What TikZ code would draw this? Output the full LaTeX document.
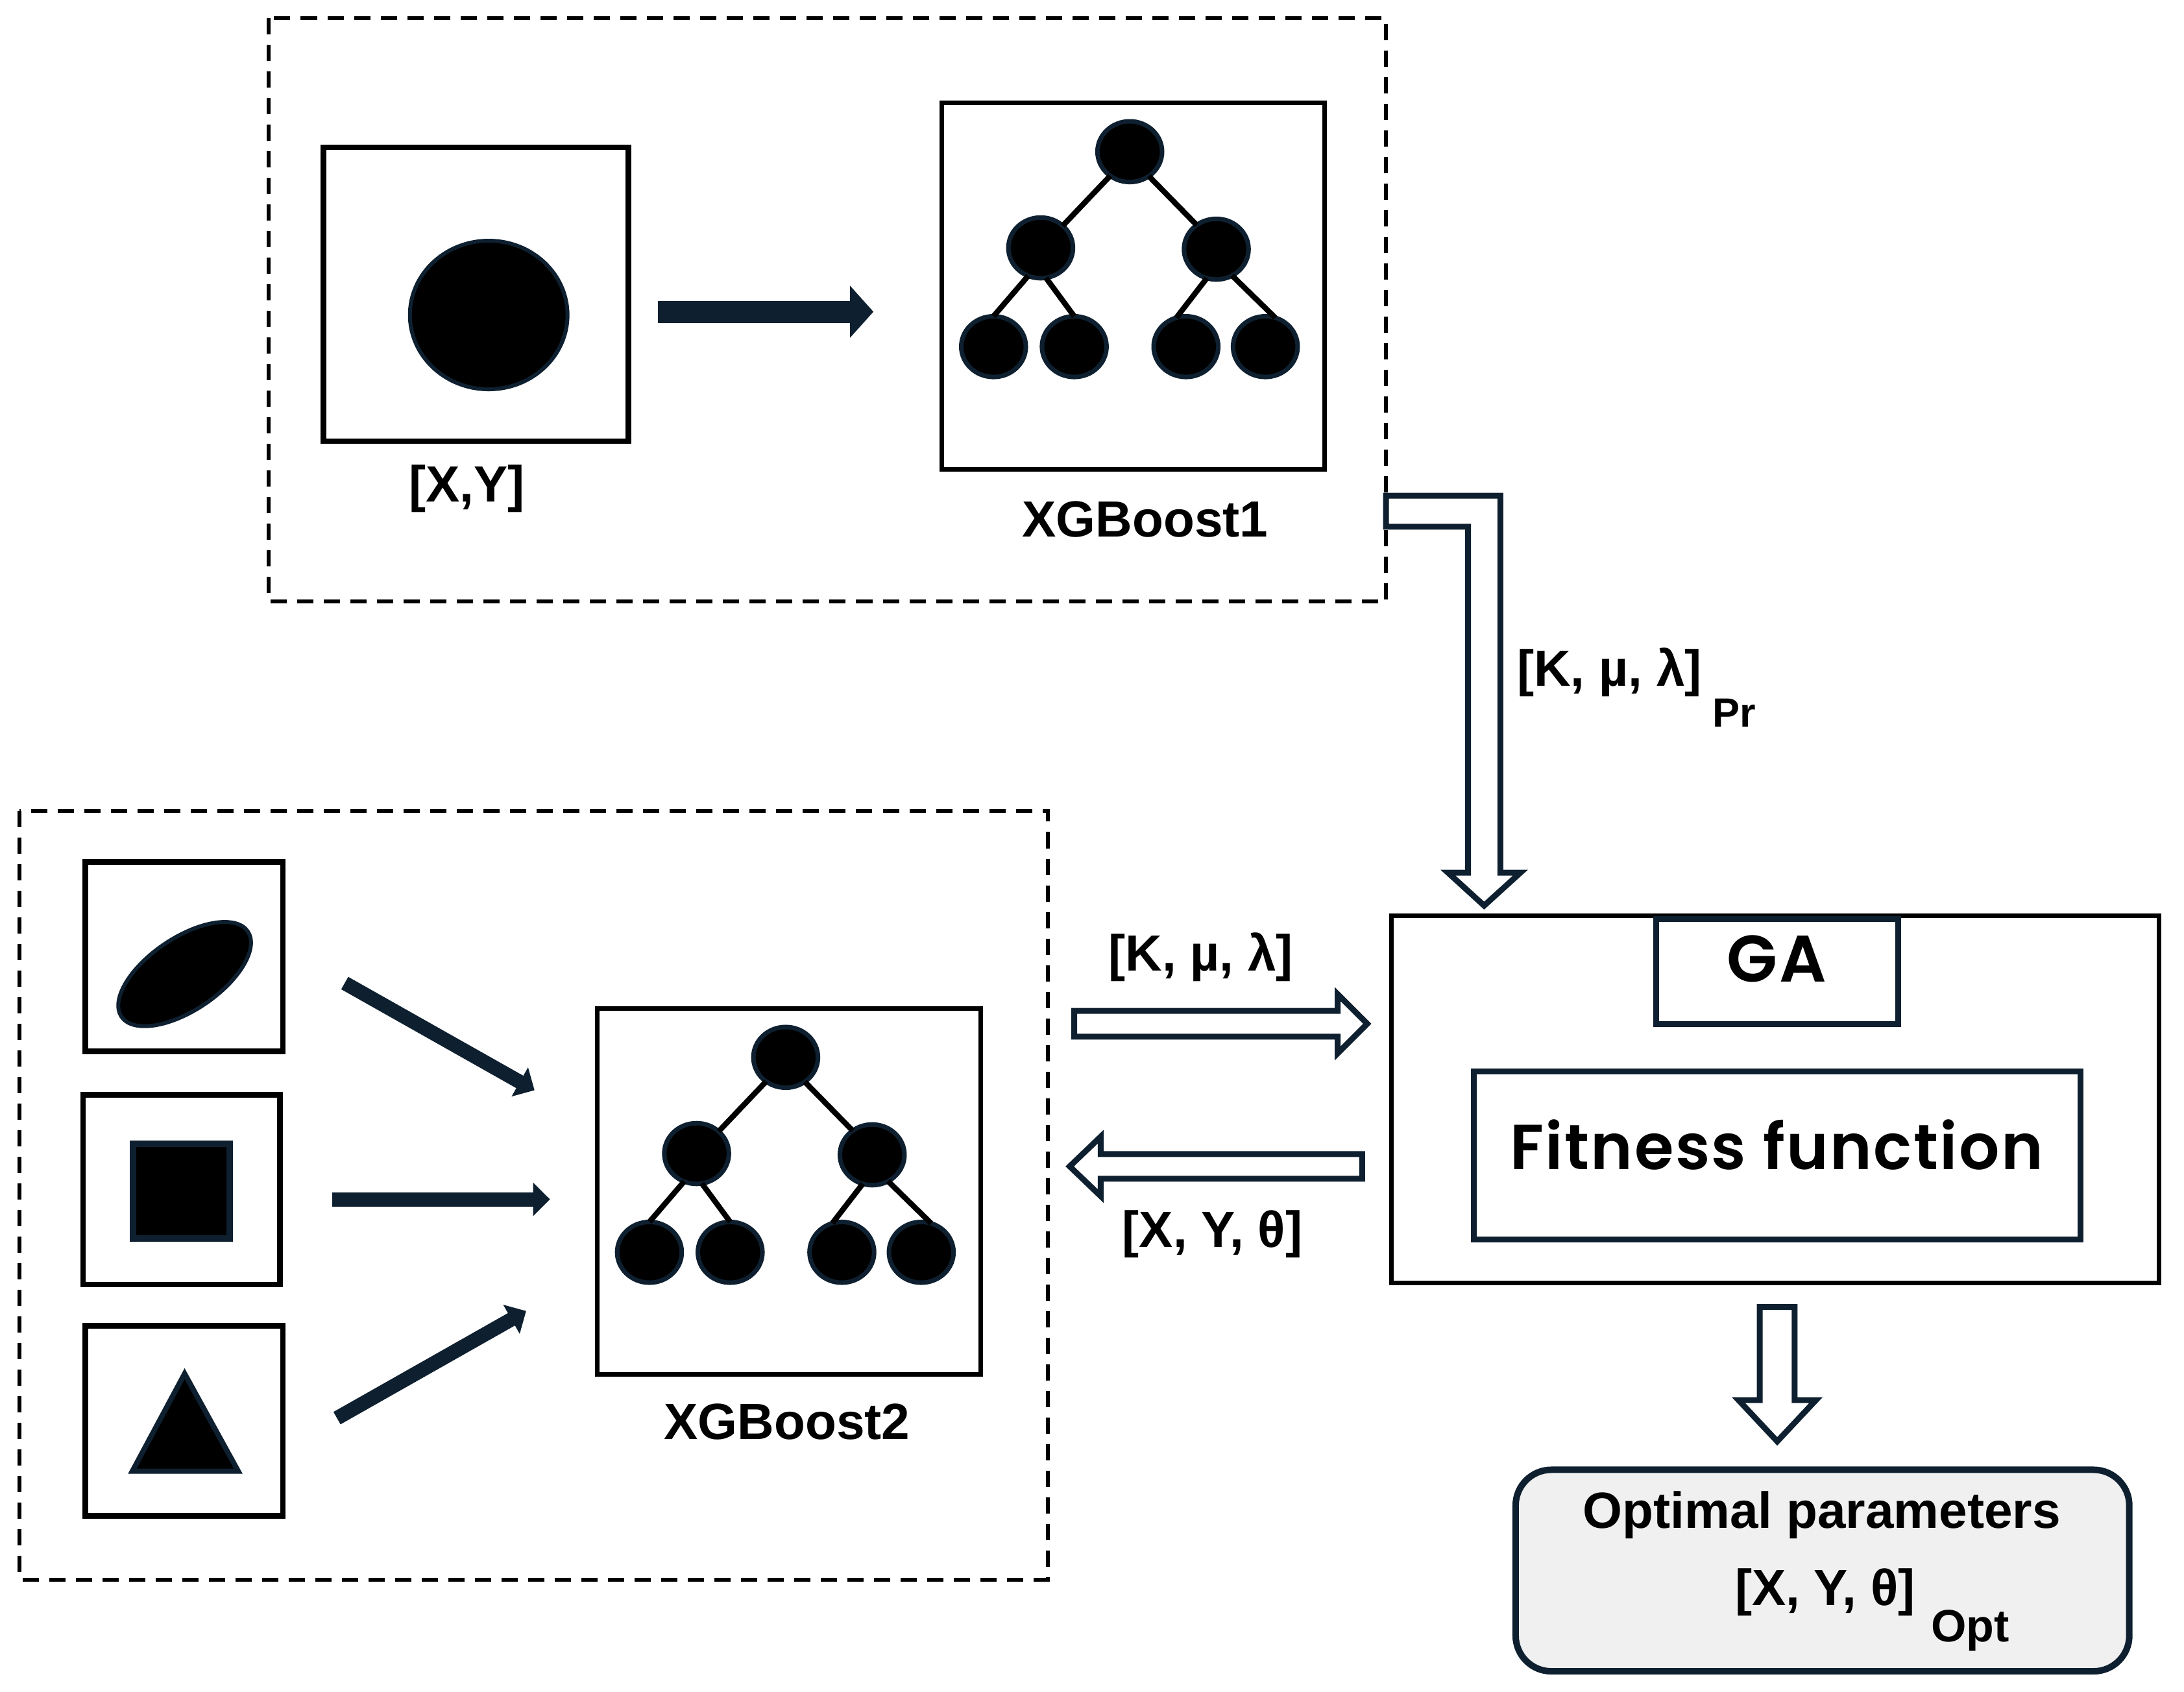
\documentclass[tikz,border=0pt]{standalone}
\usepackage{fontspec}
\usepackage{tikz}
\setmainfont{Liberation Sans}
\newfontfamily\gafont[LetterSpace=2.5]{Poppins SemiBold}
\usetikzlibrary{arrows.meta}
\usetikzlibrary{shapes.geometric}
\definecolor{navy}{HTML}{0E2030}

\begin{document}
\begin{tikzpicture}[x=0.01cm,y=-0.01cm,scale=0.995,
      every node/.style={inner sep=0mm,outer sep=0mm,transform shape},
      framebox/.style={draw=black,line width=0.06cm,dash pattern=on 0.25cm off 0.16cm},
      thickbox/.style={rectangle,draw=black,line width=0.085cm},
      thinbox/.style={rectangle,draw=black,line width=0.07cm},
      navybox/.style={rectangle,draw=navy,line width=0.09cm},
      treenode/.style={ellipse,fill=black,draw=navy,line width=0.07cm,minimum width=1cm,minimum height=0.94cm},
      treeedge/.style={draw=black,line width=0.085cm},
      solid shape/.style={fill=black,draw=navy,line width=0.06cm},
      bigarrow/.style={draw=navy,line width=0.34cm,-{Triangle[length=0.36cm,width=0.78cm]}},
      smallarrow/.style={draw=navy,line width=0.22cm,-{Triangle[length=0.26cm,width=0.5cm]}},
      hollowpath/.style={draw=navy,fill=white,line width=0.09cm,line join=miter},
      lab/.style={font=\fontsize{22.4}{26}\selectfont\bfseries},
      sublab/.style={font=\fontsize{18}{22}\selectfont\bfseries}]

      \useasboundingbox (0,0) rectangle (3383,2621);

      \draw[framebox] (416,28) rectangle (2147,932);
      \draw[framebox] (30,1256) rectangle (1623,2447);

      \node[thickbox,minimum width=4.72cm,minimum height=4.55cm] (inbox) at (737,456) {};
      \node[ellipse,solid shape,minimum width=2.44cm,minimum height=2.3cm] (incircle) at (757,488) {};
      \node[lab] (inlabel) at (723,757) {[X,Y]};

      \foreach \t/\dx/\dy in {a/0/0,b/-533/1403} {
        \begin{scope}[shift={(\dx,\dy)}]
          \node[thinbox,minimum width=5.93cm,minimum height=5.67cm] (\t box) at (1755,443) {};
          \node[treenode] (\t root) at (1750,235) {};
          \node[treenode] (\t left) at (1612,384) {};
          \node[treenode] (\t right) at (1884,386) {};
          \node[treenode] (\t l1) at (1539,537) {};
          \node[treenode] (\t l2) at (1664,537) {};
          \node[treenode] (\t r1) at (1837,537) {};
          \node[treenode] (\t r2) at (1960,537) {};
        \end{scope}
        \draw[treeedge] (\t root.231) -- (\t left.45);
        \draw[treeedge] (\t root.-52) -- (\t right.129);
        \draw[treeedge] (\t left.246) -- (\t l1.90);
        \draw[treeedge] (\t left.-80) -- (\t l2.90);
        \draw[treeedge] (\t right.252) -- (\t r1.108);
        \draw[treeedge] (\t right.-59) -- (\t r2.71);
      }
      \node[lab] (alabel) at (1774,805) {XGBoost1};
      \node[lab] (blabel) at (1219,2203) {XGBoost2};

      \coordinate (inarrowstart) at (1019,483);
      \coordinate (inarrowend) at (1353,483);
      \draw[bigarrow] (inarrowstart) -- (inarrowend);

      \node[thickbox,minimum width=3.06cm,minimum height=2.93cm] (ellbox) at (285,1482) {};
      \node[thickbox,minimum width=3.05cm,minimum height=2.94cm] (squbox) at (281,1843) {};
      \node[thickbox,minimum width=3.06cm,minimum height=2.94cm] (tribox) at (285,2201) {};
      \node[ellipse,solid shape,rotate=34,minimum width=2.36cm,minimum height=1.12cm] (ell) at (286,1509) {};
      \node[rectangle,solid shape,line width=0.1cm,minimum width=1.49cm,minimum height=1.47cm] (squ) at (281,1845) {};
      \draw[solid shape,line width=0.08cm,line join=miter] (205,2279) -- (286,2128) -- (369,2279) -- cycle;

      \coordinate (ellstart) at (534,1523);
      \coordinate (ellend) at (828,1689);
      \coordinate (squstart) at (515,1858);
      \coordinate (squend) at (852,1858);
      \coordinate (tristart) at (522,2197);
      \coordinate (triend) at (815,2031);
      \draw[smallarrow] (ellstart) -- (ellend);
      \draw[smallarrow] (squstart) -- (squend);
      \draw[smallarrow] (tristart) -- (triend);

      \node[thinbox,minimum width=11.88cm,minimum height=5.68cm] (gabox) at (2750,1703) {};
      \node[navybox,minimum width=3.75cm,minimum height=1.62cm] (ganame) at (2753,1505) {};
      \node[font=\gafont\fontsize{29}{34}\selectfont] (gatext) at (2752,1485) {GA};
      \node[navybox,minimum width=9.39cm,minimum height=2.61cm] (fitbox) at (2753,1790) {};
      \node[font=\gafont\fontsize{28}{32}\selectfont] (fittext) at (2752,1773) {Fitness function};

      \coordinate (bendtip) at (2299,1403);
      \draw[hollowpath] (2147,768) -- (2324,768) -- (2324,1352) -- (2355,1352) -- (bendtip)
        -- (2243,1352) -- (2274,1352) -- (2274,816) -- (2147,816) -- cycle;
      \node[lab,anchor=west] (prlabel) at (2350,1041) {[K, µ, λ]};
      \node[sublab,anchor=west] (prsub) at (2653,1104) {Pr};

      \coordinate (ktip) at (2118,1586);
      \draw[hollowpath] (ktip) -- ++(-46,-46) -- ++(0,26) -- ++(-408,0) -- ++(0,40) -- ++(408,0) -- ++(0,26) -- cycle;
      \node[lab] (klabel) at (1860,1483) {[K, µ, λ]};
      \coordinate (xtip) at (1657,1807);
      \draw[hollowpath] (xtip) -- ++(48,-46) -- ++(0,27) -- ++(405,0) -- ++(0,38) -- ++(-405,0) -- ++(0,27) -- cycle;
      \node[lab] (xlabel) at (1878,1912) {[X, Y, θ]};

      \coordinate (opttip) at (2753,2233);
      \draw[hollowpath] (opttip) -- ++(-60,-64) -- ++(33,0) -- ++(0,-144) -- ++(54,0) -- ++(0,144) -- ++(33,0) -- cycle;

      \node[rectangle,rounded corners=0.55cm,fill=black!6,draw=navy,line width=0.1cm,minimum width=9.5cm,minimum height=3.12cm] (optbox) at (2823,2433) {};
      \node[lab] (opttext) at (2822,2347) {Optimal parameters};
      \node[lab] (opttheta) at (2827,2467) {[X, Y, θ]};
      \node[font=\fontsize{20}{24}\selectfont\bfseries] (optsub) at (3052,2526) {Opt};
    \end{tikzpicture}
\end{document}
